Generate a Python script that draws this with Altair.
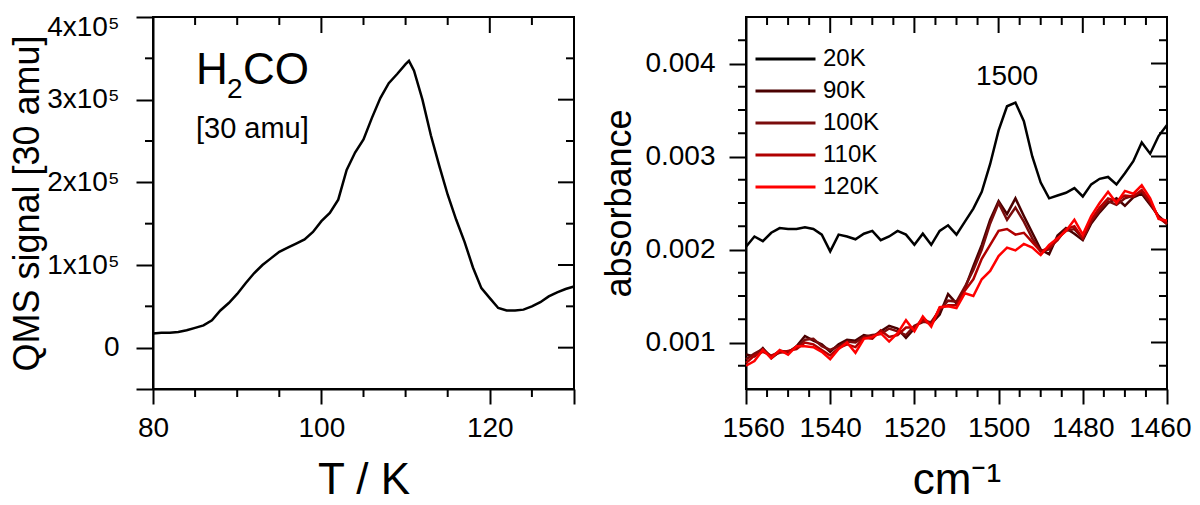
import altair as alt
import pandas as pd

# ---------------- Left panel: TPD trace (QMS signal vs T) ----------------
temp_K = [80, 81, 82, 83, 84, 85, 86, 87, 88, 89, 90, 91, 92, 93, 94, 95, 96, 97, 98, 99,
          100, 101, 102, 103, 104, 105, 106, 107, 108, 109, 110, 110.4, 111, 112, 113, 114,
          115, 116, 117, 118, 119, 120, 121, 122, 123, 124, 125, 126, 127, 128, 129, 130]
qms_signal = [17000, 18000, 18000, 19000, 21000, 24000, 27000, 33000, 45000, 54000, 65000,
              78000, 90000, 100000, 108000, 116000, 121000, 126000, 131000, 140000, 153000,
              163000, 179000, 215000, 236000, 252000, 278000, 302000, 320000, 331000, 343000,
              347000, 335000, 300000, 257000, 220000, 185000, 155000, 128000, 97000, 72000,
              60000, 48000, 45000, 45000, 46000, 50000, 55000, 62000, 67000, 71000, 74000]

left_x_major = [80, 100, 120, 130]
left_x_minor = [85, 90, 95, 105, 110, 115, 125]
left_y_major = [-50000, 0, 100000, 200000, 300000, 400000]
left_y_minor = [50000, 150000, 250000, 350000]

# ---------------- Right panel: IR spectra ----------------
wavenumber = [1560, 1558, 1556, 1554, 1552, 1550, 1548, 1546, 1544, 1542, 1540, 1538, 1536,
              1534, 1532, 1530, 1528, 1526, 1524, 1522, 1520, 1518, 1516, 1514, 1512, 1510,
              1508, 1506, 1504, 1502, 1500, 1498, 1496, 1494, 1492, 1490, 1488, 1486, 1484,
              1482, 1480, 1478, 1476, 1474, 1472, 1470, 1468, 1466, 1464, 1462, 1460]
abs_20K = [2.03, 2.14, 2.09, 2.18, 2.23, 2.22, 2.22, 2.24, 2.22, 2.16, 1.98, 2.16, 2.14,
           2.11, 2.17, 2.20, 2.10, 2.14, 2.20, 2.16, 2.05, 2.17, 2.05, 2.20, 2.26, 2.16,
           2.30, 2.44, 2.62, 2.92, 3.28, 3.54, 3.58, 3.38, 3.00, 2.72, 2.55, 2.58, 2.61,
           2.66, 2.57, 2.70, 2.76, 2.78, 2.70, 2.82, 2.95, 3.15, 3.03, 3.22, 3.34]
abs_90K = [0.87, 0.85, 0.94, 0.83, 0.90, 0.89, 0.96, 1.07, 1.02, 0.98, 0.90, 0.98, 1.03,
           1.02, 1.08, 1.06, 1.12, 1.18, 1.15, 1.05, 1.15, 1.26, 1.20, 1.30, 1.52, 1.42,
           1.58, 1.82, 2.05, 2.32, 2.52, 2.38, 2.55, 2.36, 2.18, 2.00, 1.95, 2.15, 2.23,
           2.17, 2.10, 2.28, 2.40, 2.50, 2.55, 2.47, 2.56, 2.60, 2.48, 2.36, 2.28]
abs_100K = [0.82, 0.88, 0.93, 0.85, 0.91, 0.90, 0.95, 1.03, 1.04, 0.96, 0.92, 0.96, 1.01,
            1.00, 1.06, 1.08, 1.09, 1.15, 1.12, 1.08, 1.18, 1.22, 1.22, 1.35, 1.45, 1.44,
            1.60, 1.78, 2.00, 2.28, 2.50, 2.32, 2.45, 2.30, 2.12, 1.98, 2.00, 2.12, 2.20,
            2.22, 2.12, 2.30, 2.42, 2.52, 2.48, 2.55, 2.58, 2.62, 2.50, 2.35, 2.27]
abs_110K = [0.78, 0.86, 0.90, 0.86, 0.89, 0.91, 0.93, 1.00, 0.98, 0.92, 0.86, 0.94, 0.98,
            0.95, 1.05, 1.04, 1.13, 1.06, 1.08, 1.16, 1.16, 1.24, 1.19, 1.37, 1.40, 1.40,
            1.56, 1.68, 1.90, 2.05, 2.20, 2.22, 2.16, 2.18, 2.08, 1.98, 2.02, 2.10, 2.22,
            2.25, 2.12, 2.32, 2.45, 2.55, 2.52, 2.58, 2.57, 2.64, 2.52, 2.34, 2.28]
abs_120K = [0.75, 0.80, 0.92, 0.83, 0.92, 0.87, 0.96, 0.96, 0.95, 0.90, 0.82, 0.93, 1.00,
            0.89, 1.04, 1.06, 1.10, 1.01, 1.10, 1.24, 1.12, 1.28, 1.17, 1.38, 1.39, 1.37,
            1.53, 1.50, 1.68, 1.77, 1.93, 2.02, 1.99, 2.06, 2.02, 1.94, 2.05, 2.12, 2.20,
            2.32, 2.16, 2.36, 2.50, 2.62, 2.50, 2.63, 2.60, 2.69, 2.55, 2.33, 2.31]

series_names = ["20K", "90K", "100K", "110K", "120K"]
series_colors = ["#000000", "#4a0000", "#7a0c0c", "#b00000", "#ff0000"]

right_x_major = [1560, 1540, 1520, 1500, 1480, 1460]
right_x_minor = [1555, 1550, 1545, 1535, 1530, 1525, 1515, 1510, 1505, 1495, 1490, 1485,
                 1475, 1470, 1465]
right_y_major = [0.001, 0.002, 0.003, 0.004]
right_y_minor = [0.00075, 0.00125, 0.0015, 0.00175, 0.00225, 0.0025, 0.00275, 0.00325,
                 0.0035, 0.00375, 0.00425]

FONT = "Liberation Sans"
W, H = 421, 372
MAJ, MIN = 16, 8

# ---------------- build tables ----------------
df_left = pd.DataFrame({"T": temp_K, "signal": qms_signal})
rows = []
for name, vals in zip(series_names, [abs_20K, abs_90K, abs_100K, abs_110K, abs_120K]):
    for wn, v in zip(wavenumber, vals):
        rows.append({"wn": wn, "A": v / 1000.0, "series": name})
df_right = pd.DataFrame(rows)

axis_common = dict(grid=False, domainColor="black", domainWidth=2, tickColor="black",
                   tickWidth=2, labelColor="black", titleColor="black", labelFont=FONT,
                   titleFont=FONT, titleFontWeight="normal", labelOverlap=False)

# ---------------- left chart ----------------
lx = alt.Scale(domain=[80, 130], nice=False, zero=False)
ly = alt.Scale(domain=[-50000, 400000], nice=False, zero=False)

left_line = alt.Chart(df_left).mark_line(color="black", strokeWidth=2.5).encode(
    x=alt.X("T:Q", scale=lx, axis=alt.Axis(
        title="T / K", values=left_x_major, tickSize=15, labelFlush=False,
        labelExpr="datum.value == 130 ? '' : format(datum.value, 'd')",
        labelFontSize=28, titleFontSize=44, labelPadding=10, titlePadding=16,
        **axis_common)),
    y=alt.Y("signal:Q", scale=ly, axis=alt.Axis(
        title="QMS signal [30 amu]", values=left_y_major, tickSize=17,
        labelFlush=True, labelFlushOffset=4,
        labelExpr="datum.value == 0 ? '0' : (datum.value < 0 ? '' : format(datum.value/100000, 'd') + 'x10\u2075')",
        labelFontSize=28, titleFontSize=36, labelPadding=17, titlePadding=0,
        **axis_common)),
)

txt_rows = pd.DataFrame({"T": [85.1, 88.8, 90.7, 85.1],
                         "signal": [319000, 302000, 319000, 254000],
                         "label": ["H", "2", "CO", "[30 amu]"],
                         "size": [44, 28, 44, 29]})
left_text = alt.Chart(txt_rows).mark_text(align="left", baseline="alphabetic", font=FONT,
                                          color="black").encode(
    x=alt.X("T:Q", scale=lx), y=alt.Y("signal:Q", scale=ly), text="label:N",
    size=alt.Size("size:Q", scale=None, legend=None))

lxmaj = pd.DataFrame({"T": left_x_major})
lxmin = pd.DataFrame({"T": left_x_minor})
lymaj = pd.DataFrame({"signal": left_y_major})
lymin = pd.DataFrame({"signal": left_y_minor})

def vrules(df, field, scale, y0, y1):
    return alt.Chart(df).mark_rule(color="black", strokeWidth=2).encode(
        x=alt.X(f"{field}:Q", scale=scale), y=alt.value(y0), y2=alt.value(y1))

def hrules(df, field, scale, x0, x1):
    return alt.Chart(df).mark_rule(color="black", strokeWidth=2).encode(
        y=alt.Y(f"{field}:Q", scale=scale), x=alt.value(x0), x2=alt.value(x1))

left = alt.layer(
    left_line, left_text,
    vrules(lxmin, "T", lx, H, H + MIN),
    vrules(lxmaj, "T", lx, 0, MAJ),
    vrules(lxmin, "T", lx, 0, MIN),
    hrules(lymin, "signal", ly, -MIN, 0),
    hrules(lymaj, "signal", ly, W - MAJ, W),
    hrules(lymin, "signal", ly, W - MIN, W),
).properties(width=W, height=H)

# ---------------- right chart ----------------
rx = alt.Scale(domain=[1460, 1560], reverse=True, nice=False, zero=False)
ry = alt.Scale(domain=[0.0005, 0.0045], nice=False, zero=False)

right_lines = alt.Chart(df_right).mark_line(strokeWidth=2.5).encode(
    x=alt.X("wn:Q", scale=rx, axis=alt.Axis(
        title="cm\u207b\u00b9", values=right_x_major, tickSize=15, format="d",
        labelFlush=True, labelFlushOffset=24,
        labelFontSize=28, titleFontSize=44, labelPadding=10, titlePadding=16,
        **axis_common)),
    y=alt.Y("A:Q", scale=ry, axis=alt.Axis(
        title="absorbance", values=right_y_major, tickSize=17, format=".3f",
        labelFlush=False,
        labelFontSize=28, titleFontSize=36, labelPadding=14, titlePadding=6,
        **axis_common)),
    color=alt.Color("series:N", scale=alt.Scale(domain=series_names, range=series_colors),
                    legend=alt.Legend(title=None, orient="none", legendX=8, legendY=26,
                                      symbolType="stroke", symbolSize=3600,
                                      symbolStrokeWidth=3, clipHeight=32, rowPadding=0,
                                      labelFontSize=24, labelFont=FONT, labelOffset=6,
                                      padding=0, labelColor="black")),
)

peak = pd.DataFrame({"wn": [1498.0], "A": [0.00386], "label": ["1500"]})
right_text = alt.Chart(peak).mark_text(fontSize=28, font=FONT, color="black").encode(
    x=alt.X("wn:Q", scale=rx), y=alt.Y("A:Q", scale=ry), text="label:N")

rxmaj = pd.DataFrame({"wn": right_x_major})
rxmin = pd.DataFrame({"wn": right_x_minor})
rymaj = pd.DataFrame({"A": right_y_major})
rymin = pd.DataFrame({"A": right_y_minor})

right = alt.layer(
    right_lines, right_text,
    vrules(rxmin, "wn", rx, H, H + MIN),
    vrules(rxmaj, "wn", rx, 0, MAJ),
    vrules(rxmin, "wn", rx, 0, MIN),
    hrules(rymin, "A", ry, -MIN, 0),
    hrules(rymaj, "A", ry, W - MAJ, W),
    hrules(rymin, "A", ry, W - MIN, W),
).properties(width=W, height=H)

chart = alt.hconcat(left, right, spacing=20).resolve_scale(
    color="independent"
).resolve_legend(
    color="independent"
).properties(
    padding={"left": 0, "top": 4, "right": 0, "bottom": 0},
    background="white"
).configure_view(
    stroke="black", strokeWidth=2
).configure_axis(
    grid=False, domainColor="black", domainWidth=2, tickColor="black", tickWidth=2,
    labelColor="black", titleColor="black", labelFont=FONT, titleFont=FONT,
    titleFontWeight="normal"
)

chart.save("out.html", embed_options={"renderer": "svg", "actions": False})
